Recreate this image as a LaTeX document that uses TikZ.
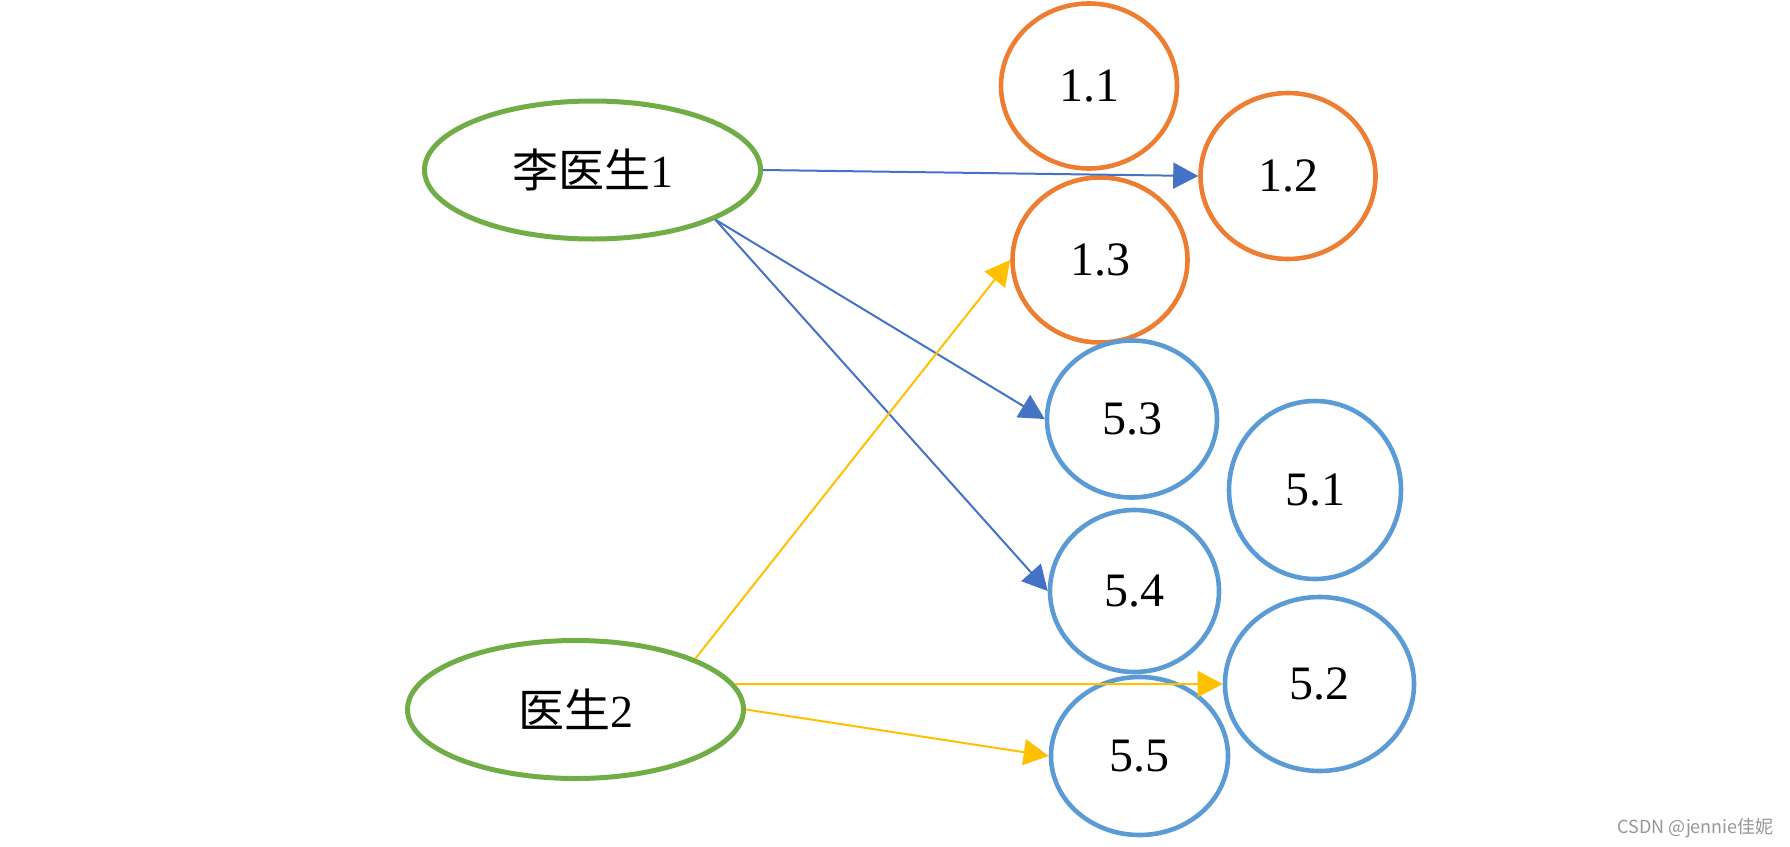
\documentclass[tikz,border=0pt]{standalone}
\usepackage{fontspec}
\setmainfont{Liberation Serif}
\newfontfamily\cjk{Noto Sans CJK SC}
\usetikzlibrary{shapes.geometric,arrows.meta}
\definecolor{cgreen}{HTML}{70AD47}
\definecolor{corange}{HTML}{ED7D31}
\definecolor{cblue}{HTML}{5B9BD5}
\definecolor{cdarkblue}{HTML}{4472C4}
\definecolor{cyellow}{HTML}{FFC000}
\definecolor{cwm}{RGB}{150,150,150}
\begin{document}
\begin{tikzpicture}[x=1pt,y=-1pt,
  doc/.style={ellipse, draw=cgreen, line width=5pt, inner sep=0pt,
    minimum width=336pt, minimum height=138pt, font=\fontsize{46}{50}\selectfont},
  oitem/.style={ellipse, draw=corange, line width=4.6pt, inner sep=0pt, font=\fontsize{48}{52}\selectfont},
  bitem/.style={ellipse, draw=cblue, line width=4.6pt, inner sep=0pt, font=\fontsize{48}{52}\selectfont},
  barrow/.style={draw=cdarkblue, line width=2pt, -{Triangle[length=25pt,width=26pt]}},
  yarrow/.style={draw=cyellow, line width=2pt, -{Triangle[length=25pt,width=26pt]}}]
\useasboundingbox (0,0) rectangle (1790,846);
% doctors
\node[doc] (n1) at (592.5,170) {{\cjk 李医生}1};
\node[doc] (n2) at (575.5,709.5) {{\cjk 医生}2};
% orange items
\node[oitem, minimum width=176pt, minimum height=165pt] (n11) at (1089,86) {1.1};
\node[oitem, minimum width=175pt, minimum height=166pt] (n12) at (1288,176) {1.2};
\node[oitem, minimum width=175pt, minimum height=165pt] (n13) at (1100,260) {1.3};
% blue items
\node[bitem, minimum width=170pt, minimum height=157pt] (n53) at (1132,419) {5.3};
\node[bitem, minimum width=172pt, minimum height=178pt] (n51) at (1315,490) {5.1};
\node[bitem, minimum width=169pt, minimum height=162pt] (n54) at (1134.5,591) {5.4};
\node[bitem, minimum width=189pt, minimum height=174pt] (n52) at (1319.5,684) {5.2};
\node[bitem, minimum width=177pt, minimum height=158pt] (n55) at (1139.5,756) {5.5};
% connectors
\draw[barrow] (n1.east) -- (n12.west);
\draw[barrow] (n1.-22) -- (n53.west);
\draw[barrow] (n1.-22) -- (n54.west);
\draw[yarrow] (n2.23) -- (n13.west);
\draw[yarrow] (n2.9) -- (n52.west);
\draw[yarrow] (n2.east) -- (n55.west);
% watermark
\node[font=\cjk\fontsize{18}{20}\selectfont, text=cwm, anchor=east, inner sep=0pt] (wm) at (1774,828) {CSDN @jennie佳妮};
\end{tikzpicture}
\end{document}
